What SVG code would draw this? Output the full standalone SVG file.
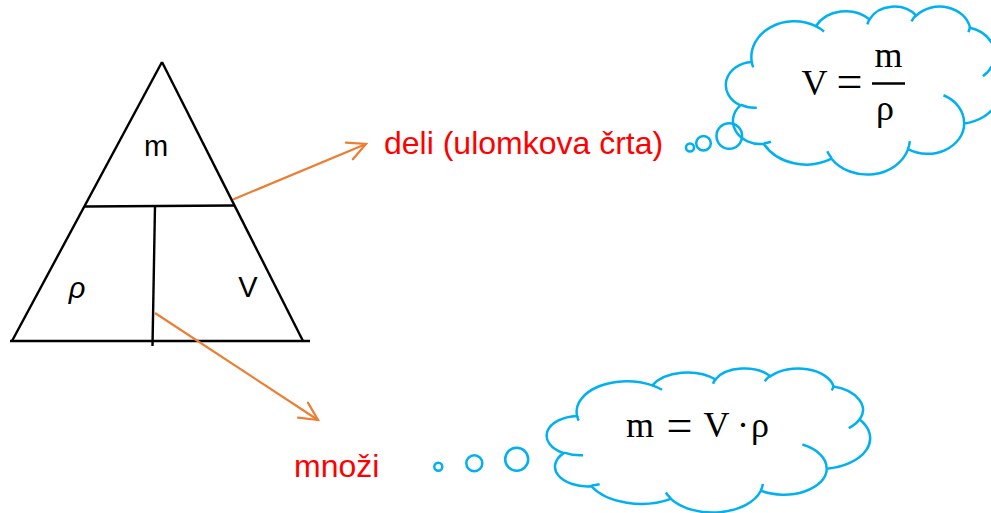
<svg xmlns="http://www.w3.org/2000/svg" xmlns:xlink="http://www.w3.org/1999/xlink" width="991" height="513" viewBox="0 0 991 513">
<style>
.tri{stroke:#000;stroke-width:2.4;fill:none;stroke-linecap:butt}
.lbl{font-family:"Liberation Sans",Arial,sans-serif;font-size:29px;fill:#000}
.red{font-family:"Liberation Sans",Arial,sans-serif;font-size:32px;fill:#FF0000}
.eq{font-family:"Liberation Serif","Times New Roman",serif;font-size:36px;fill:#000}
.eqs{font-family:"Liberation Serif","Times New Roman",serif;font-size:46px;fill:#000}
.cl{stroke:#00B0F0;stroke-width:2.5;fill:none}
.con{stroke:#ED7D31;stroke-width:2.2;fill:none}
</style>
<defs>
<marker id="arrow" markerUnits="userSpaceOnUse" markerWidth="30" markerHeight="30" viewBox="-25 -15 30 30" refX="0" refY="0" orient="auto" overflow="visible">
<path d="M-18 -9 L0 0 L-18 9" fill="none" stroke="#ED7D31" stroke-width="2.2" stroke-linecap="round"/>
</marker>
<path id="cloud" vector-effect="non-scaling-stroke" d="M3900 14370 A6753 9190 0 0 1 14005 5202 A5333 7267 0 0 1 22456 3432 A4365 5945 0 0 1 29833 2480 A4857 6595 0 0 1 38318 5576 A5333 7273 0 0 1 41819 15460 A6775 9220 0 0 1 37404 30202 A5785 7867 0 0 1 28555 36812 A6752 9215 0 0 1 16481 39265 A7720 10543 0 0 1 5805 35471 A4360 5918 0 0 1 2114 25549 A4345 5945 0 0 1 3900 14370 Z"/>
<path id="cloudInner" vector-effect="non-scaling-stroke" d="M4693 26177 A4345 5945 0 0 1 2160 25380 M6928 34899 A4360 5918 0 0 1 5820 35281 M16478 39090 A6752 9215 0 0 1 15809 37348 M28827 34751 A6752 9215 0 0 1 28560 36660 M34129 22954 A5785 7867 0 0 1 37381 30090 M41798 15354 A5333 7273 0 0 1 40350 18030 M38324 5426 A4857 6595 0 0 1 38051 6714 M29078 3952 A4857 6595 0 0 1 29820 2339 M22141 4720 A4365 5945 0 0 1 22500 3331 M14000 5192 A6753 9190 0 0 1 15300 6540 M4127 15789 A6753 9190 0 0 1 3901 14371"/>
</defs>
<rect width="991" height="513" fill="#fff"/>

<g id="triangle">
<line class="tri" x1="162" y1="62" x2="12" y2="341"/>
<line class="tri" x1="162" y1="62" x2="303" y2="341"/>
<line class="tri" x1="10" y1="341" x2="310" y2="341"/>
<line class="tri" x1="85" y1="206.5" x2="234" y2="205.5"/>
<line class="tri" x1="155" y1="206" x2="152.5" y2="346"/>
<text class="lbl" x="156" y="156" text-anchor="middle">m</text>
<text class="lbl" x="77" y="298" text-anchor="middle" font-style="italic">ρ</text>
<text class="lbl" x="248" y="297" text-anchor="middle">V</text>
</g>

<g id="connectors">
<line class="con" x1="233" y1="199.5" x2="366" y2="144" marker-end="url(#arrow)"/>
<line class="con" x1="155" y1="313" x2="318" y2="420" marker-end="url(#arrow)"/>
</g>

<g id="label-deli">
<text class="red" x="384" y="154">deli (ulomkova črta)</text>
</g>
<g id="label-mnozi">
<text class="red" x="294" y="477">množi</text>
</g>

<g id="cloud-division">
<circle class="cl" cx="690" cy="147.5" r="4"/>
<circle class="cl" cx="703.5" cy="143.3" r="7.3"/>
<circle class="cl" cx="729.3" cy="136" r="12.8"/>
<use class="cl" xlink:href="#cloud" transform="translate(727 6) scale(0.0063426 0.0038889)"/>
<use class="cl" xlink:href="#cloudInner" transform="translate(727 6) scale(0.0063426 0.0038889)"/>
<text class="eq" x="814.5" y="95" text-anchor="middle">V</text>
<text class="eqs" x="849.5" y="97" text-anchor="middle">=</text>
<line x1="872" y1="83.5" x2="905" y2="83.5" stroke="#000" stroke-width="2.5"/>
<text class="eq" x="888.5" y="67" text-anchor="middle">m</text>
<text class="eq" x="885" y="120" text-anchor="middle">ρ</text>
</g>

<g id="cloud-multiplication">
<circle class="cl" cx="438.3" cy="466.7" r="4"/>
<circle class="cl" cx="474.3" cy="463.3" r="8"/>
<circle class="cl" cx="516.7" cy="459.3" r="11.5"/>
<use class="cl" xlink:href="#cloud" transform="translate(548 368) scale(0.0074537 0.0033333)"/>
<use class="cl" xlink:href="#cloudInner" transform="translate(548 368) scale(0.0074537 0.0033333)"/>
<text class="eq" x="640" y="437" text-anchor="middle">m</text>
<text class="eqs" x="679.5" y="441" text-anchor="middle">=</text>
<text class="eq" x="716.5" y="437" text-anchor="middle">V</text>
<text class="eq" x="743" y="437" text-anchor="middle">·</text>
<text class="eq" x="760" y="437" text-anchor="middle">ρ</text>
</g>
</svg>
